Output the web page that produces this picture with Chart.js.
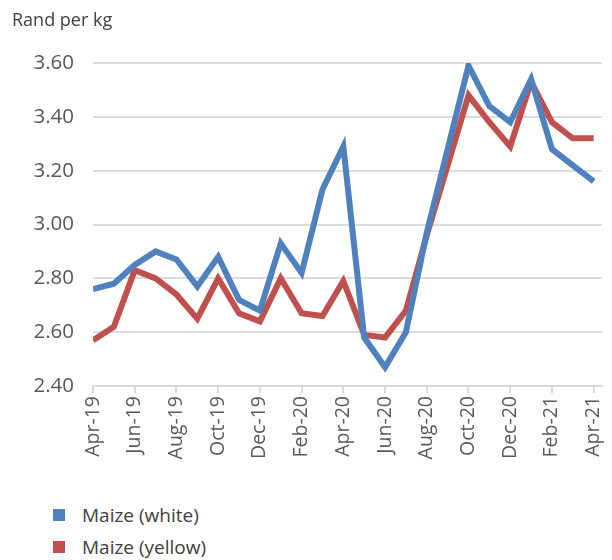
<!DOCTYPE html>
<html>
<head>
<meta charset="utf-8">
<script src="https://cdn.jsdelivr.net/npm/chart.js@4.4.1/dist/chart.umd.min.js"></script>
<style>
  html, body { margin: 0; padding: 0; background: #fff; }
  body { width: 612px; height: 560px; position: relative; overflow: hidden; font-family: "Open Sans", sans-serif; }
  #wrap { position: absolute; left: 0; top: 0; width: 612px; height: 500px; }
  #unit { position: absolute; left: 12px; top: 9px; font-size: 18px; color: #404040; line-height: 20px; }
  .leg { position: absolute; left: 53px; font-size: 19px; color: #404040; line-height: 20px; }
  .leg span.sw { position: absolute; left: 0; top: 4px; width: 12px; height: 12px; }
  .leg span.tx { position: absolute; left: 29px; top: 0; white-space: nowrap; }
</style>
</head>
<body>
<div id="wrap"><canvas id="chart" width="612" height="500"></canvas></div>
<div id="unit">Rand per kg</div>
<div class="leg" style="top:505px"><span class="sw" style="background:#4F81BD"></span><span class="tx">Maize (white)</span></div>
<div class="leg" style="top:537px"><span class="sw" style="background:#C0504D"></span><span class="tx">Maize (yellow)</span></div>
<script>
// Monthly maize prices, Rand per kg
const months = ["Apr-19","May-19","Jun-19","Jul-19","Aug-19","Sep-19","Oct-19","Nov-19","Dec-19",
  "Jan-20","Feb-20","Mar-20","Apr-20","May-20","Jun-20","Jul-20","Aug-20","Sep-20","Oct-20",
  "Nov-20","Dec-20","Jan-21","Feb-21","Mar-21","Apr-21"];
const maizeWhite  = [2.76,2.78,2.85,2.90,2.87,2.77,2.88,2.72,2.68,2.93,2.82,3.13,3.29,2.58,2.47,2.60,2.97,3.28,3.59,3.44,3.38,3.54,3.28,3.22,3.16];
const maizeYellow = [2.57,2.62,2.83,2.80,2.74,2.65,2.80,2.67,2.64,2.80,2.67,2.66,2.79,2.59,2.58,2.68,2.96,3.22,3.48,3.38,3.29,3.53,3.38,3.32,3.32];
const seriesNames = ["Maize (white)", "Maize (yellow)"];

const toPoints = arr => arr.map((v, i) => ({ x: i, y: v }));

new Chart(document.getElementById("chart"), {
  type: "line",
  data: {
    datasets: [
      { label: seriesNames[0], data: toPoints(maizeWhite), borderColor: "#4F81BD", backgroundColor: "#4F81BD",
        borderWidth: 6, pointRadius: 0, tension: 0, fill: false },
      { label: seriesNames[1], data: toPoints(maizeYellow), borderColor: "#C0504D", backgroundColor: "#C0504D",
        borderWidth: 6, pointRadius: 0, tension: 0, fill: false }
    ]
  },
  options: {
    responsive: false,
    animation: false,
    layout: { padding: { top: 63, right: 10, left: 0, bottom: 0 } },
    plugins: { legend: { display: false }, tooltip: { enabled: false } },
    scales: {
      x: {
        type: "linear",
        min: 0,
        max: months.length - 1 + 0.4,
        afterFit: s => { s.height = 114; s.paddingLeft = 0; s.paddingRight = 0; },
        afterBuildTicks: s => {
          const t = [];
          for (let i = 0; i < months.length; i += 2) t.push({ value: i });
          s.ticks = t;
        },
        ticks: {
          autoSkip: false,
          minRotation: 90,
          maxRotation: 90,
          padding: 3,
          color: "#595959",
          font: { family: "Open Sans", size: 19.5 },
          callback: v => months[v]
        },
        grid: { drawOnChartArea: false, drawTicks: true, tickLength: 7, color: "#d9d9d9", lineWidth: 2 },
        border: { display: true, color: "#d9d9d9", width: 2 }
      },
      y: {
        min: 2.4,
        max: 3.6,
        afterFit: s => { s.width = 93; },
        ticks: {
          stepSize: 0.2,
          padding: 19,
          color: "#595959",
          font: { family: "Open Sans", size: 20.5 },
          callback: v => Number(v).toFixed(2)
        },
        grid: { drawTicks: false, color: "#dcdcdc", lineWidth: 2 },
        border: { display: false }
      }
    }
  }
});
</script>
</body>
</html>
